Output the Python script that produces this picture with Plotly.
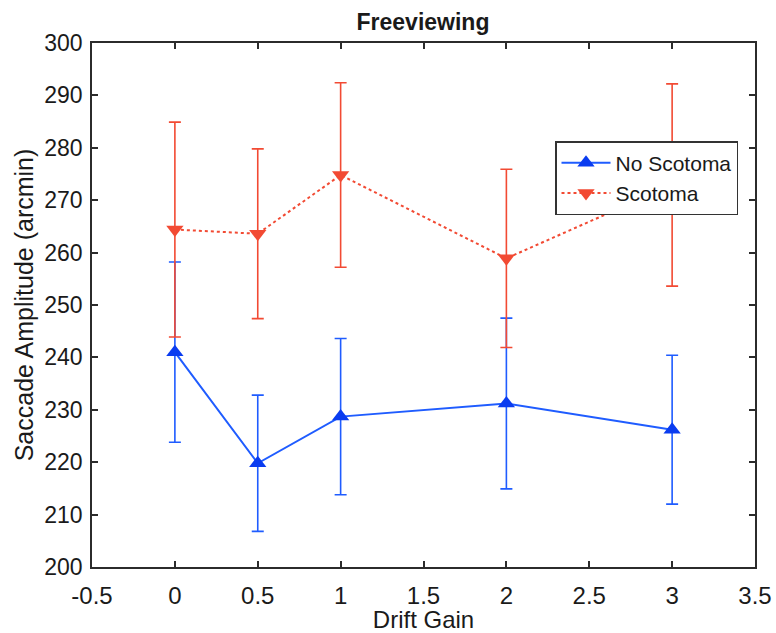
import plotly.graph_objects as go

drift_gain = [0, 0.5, 1, 2, 3]
no_scotoma = [241.0, 219.8, 228.7, 231.2, 226.2]
no_scotoma_err = [17.2, 13.0, 14.9, 16.3, 14.2]
scotoma = [264.4, 263.6, 274.8, 258.9, 272.9]
scotoma_err = [20.5, 16.2, 17.6, 17.0, 19.3]

blue_line = "#1f5cff"
blue_mark = "#0a3cf0"
red = "#f24a33"

fig = go.Figure()
fig.add_trace(go.Scatter(
    x=drift_gain, y=no_scotoma, name="No Scotoma", mode="lines+markers",
    line=dict(color=blue_line, width=2),
    marker=dict(symbol="triangle-up", size=15, color=blue_mark),
    error_y=dict(type="data", array=no_scotoma_err, visible=True,
                 color=blue_line, thickness=1.6, width=6),
))
fig.add_trace(go.Scatter(
    x=drift_gain, y=scotoma, name="Scotoma", mode="lines+markers",
    line=dict(color=red, width=2, dash="dot"),
    marker=dict(symbol="triangle-down", size=15, color=red),
    error_y=dict(type="data", array=scotoma_err, visible=True,
                 color=red, thickness=1.6, width=6),
))

axis_color = "#2b2b2b"
fig.update_layout(
    width=776, height=633,
    margin=dict(l=92, r=21, t=43, b=66),
    paper_bgcolor="white", plot_bgcolor="white",
    font=dict(family="Liberation Sans, Arial, sans-serif", color="#1a1a1a"),
    title=dict(text="<b>Freeviewing</b>", x=(92 + 331) / 776, xanchor="center",
               y=1 - 22 / 633, yanchor="middle", font=dict(size=23)),
    showlegend=True,
    legend=dict(x=(555 - 92) / 663, y=1 - (141 - 43) / 524, xanchor="left", yanchor="top",
                bgcolor="white", bordercolor="#333333", borderwidth=1.5,
                font=dict(size=21), tracegroupgap=0, itemwidth=49),
    xaxis=dict(range=[-0.5, 3.5], tickvals=[-0.5, 0, 0.5, 1, 1.5, 2, 2.5, 3, 3.5],
               ticktext=["-0.5", "0", "0.5", "1", "1.5", "2", "2.5", "3", "3.5"],
               showgrid=False, zeroline=False, showline=True, mirror="ticks",
               linecolor=axis_color, linewidth=1.5, ticks="inside", ticklen=6,
               tickcolor=axis_color, tickwidth=1.5, ticklabelstandoff=6,
               tickfont=dict(size=24), automargin=False,
               title=dict(text="Drift Gain", standoff=6, font=dict(size=24))),
    yaxis=dict(range=[200, 300], tickvals=list(range(200, 301, 10)),
               showgrid=False, zeroline=False, showline=True, mirror="ticks",
               linecolor=axis_color, linewidth=1.5, ticks="inside", ticklen=6,
               tickcolor=axis_color, tickwidth=1.5, ticklabelstandoff=3,
               tickfont=dict(size=23), automargin=False,
               title=dict(text="Saccade Amplitude (arcmin)", standoff=4, font=dict(size=25))),
)

fig.write_html("out.html")
